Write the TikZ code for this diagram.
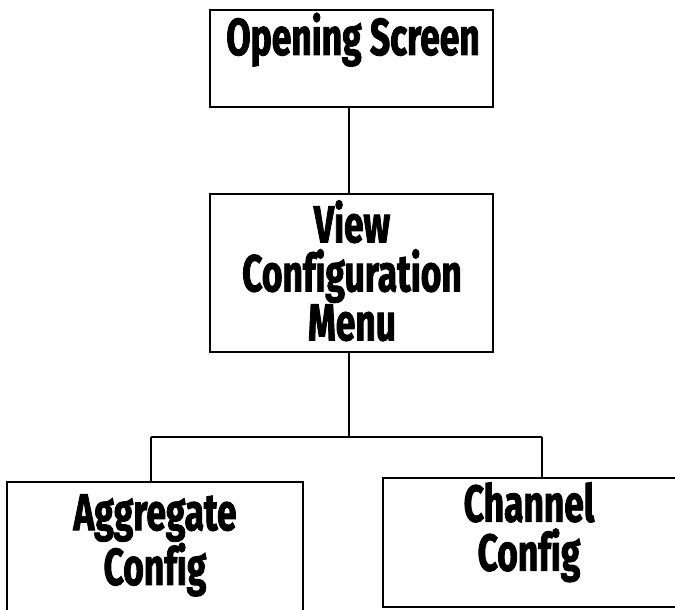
\documentclass[tikz,border=0pt]{standalone}
\usepackage{fontspec}
\setmainfont{Fira Sans}[FakeStretch=0.68,Ligatures=NoCommon,BoldFeatures={FakeBold=1.6}]
\usetikzlibrary{positioning}
% empty frame for one menu screen: name, x, y, width, height
\newcommand\menubox[5]{\node(#1)[box,minimum width=#4,minimum height=#5] at (#2,#3) {};}

\begin{document}
\begin{tikzpicture}[x=1pt,y=1pt,
    box/.style={draw,line width=2.4pt,inner sep=0pt},
    conn/.style={line width=2.2pt},
    lbl/.style={font=\bfseries\fontsize{52}{49}\selectfont,align=center,inner sep=0pt}]
    \clip (0,0) rectangle (675,610);
    \fill[white] (0,0) rectangle (675,610);

    \menubox{open}{351.5}{551.5}{283pt}{97pt}
    \menubox{view}{351.5}{337}{283pt}{158pt}
    \menubox{agg}{155}{59}{296pt}{138pt}
    \menubox{chn}{536.5}{67.5}{307pt}{129pt}

    \node(openlbl)[lbl,anchor=base]  at (353,555) {Opening Screen};
    \node(viewlbl)[lbl,anchor=north] at (352,410) {View\\Configuration\\Menu};
    \node(agglbl)[lbl,anchor=north]  at (155,116) {Aggregate\\Config};
    \node(chnlbl)[lbl,anchor=north]  at (529,128) {Channel\\Config};

    % tree lines
    \coordinate (split) at (349,173);
    \coordinate (aggtap) at (151,173);
    \coordinate (chntap) at (542,173);
    \draw[conn] (open.south -| split) -- (view.north -| split);
    \draw[conn] (view.south -| split) -- (split);
    \draw[conn] (aggtap) -- (chntap);
    \draw[conn] (aggtap) -- (aggtap |- agg.north);
    \draw[conn] (chntap) -- (chntap |- chn.north);
\end{tikzpicture}
\end{document}
